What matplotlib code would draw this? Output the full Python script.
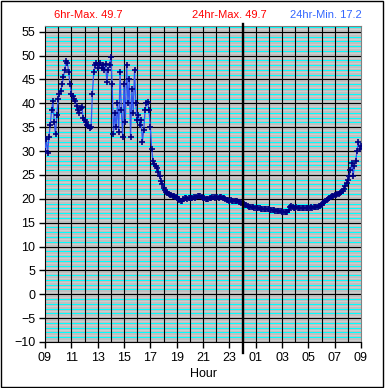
import numpy as np
import matplotlib
matplotlib.use('Agg')
import matplotlib.pyplot as plt
from matplotlib.patches import Rectangle
import matplotlib.transforms as mtransforms

plt.rcParams['font.family'] = ['Liberation Sans', 'DejaVu Sans']

# readings every 6 minutes starting 09:00, one row per hour
temps = [
    30.0, 32.5, 29.6, 33.0, 35.5, 38.5, 40.5, 36.0, 33.5, 37.5,   # 09
    41.0, 42.0, 42.5, 44.0, 45.5, 47.0, 48.8, 48.5, 46.5, 44.0,   # 10
    42.0, 41.5, 41.0, 40.5, 39.5, 38.5, 38.0, 39.0, 39.2, 37.0,   # 11
    36.5, 36.0, 35.5, 35.2, 34.8, 35.0, 42.0, 46.5, 48.0, 48.5,   # 12
    47.5, 48.0, 48.5, 47.5, 48.0, 47.0, 48.2, 44.5, 47.0, 48.0,   # 13
    49.7, 44.0, 33.5, 38.0, 35.0, 40.0, 34.0, 46.5, 38.5, 33.0,   # 14
    44.0, 36.0, 48.0, 40.0, 45.0, 33.0, 43.0, 38.0, 47.0, 40.0,   # 15
    36.5, 37.5, 35.5, 36.5, 32.0, 34.5, 38.5, 40.0, 40.2, 38.5,   # 16
    35.0, 30.5, 28.0, 27.2, 26.8, 26.5, 25.6, 24.8, 23.8, 23.2,   # 17
    22.3, 21.8, 21.5, 21.2, 21.0, 20.9, 20.7, 20.6, 20.5, 20.4,   # 18
    20.3, 20.0, 19.8, 19.6, 19.6, 19.9, 20.1, 20.2, 20.0, 20.1,   # 19
    20.2, 20.1, 20.2, 20.3, 20.2, 20.4, 20.5, 20.6, 20.5, 20.3,   # 20
    20.2, 20.1, 19.9, 19.9, 20.0, 20.2, 20.2, 20.3, 20.3, 20.2,   # 21
    20.3, 20.3, 20.2, 20.3, 20.3, 20.2, 20.1, 20.0, 19.8, 19.7,   # 22
    19.6, 19.7, 19.6, 19.6, 19.5, 19.6, 19.5, 19.4, 19.3, 19.2,   # 23
    19.0, 18.9, 18.7, 18.6, 18.4, 18.3, 18.3, 18.2, 18.2, 18.1,   # 00
    18.1, 18.0, 18.0, 18.0, 17.9, 17.9, 17.8, 17.9, 17.8, 17.8,   # 01
    17.8, 17.7, 17.7, 17.6, 17.6, 17.5, 17.5, 17.5, 17.4, 17.4,   # 02
    17.3, 17.3, 17.2, 17.2, 17.3, 17.6, 18.3, 18.5, 18.2, 18.1,   # 03
    18.1, 18.2, 18.1, 18.0, 18.1, 18.1, 18.0, 18.0, 18.1, 18.0,   # 04
    18.1, 18.1, 18.2, 18.1, 18.2, 18.2, 18.3, 18.3, 18.4, 18.5,   # 05
    18.8, 19.1, 19.4, 19.6, 19.8, 19.9, 20.1, 20.3, 20.5, 20.6,   # 06
    20.7, 20.8, 21.0, 21.1, 21.2, 21.4, 21.6, 22.0, 22.6, 23.3,   # 07
    24.0, 24.8, 26.0, 27.5, 24.8, 26.8, 28.0, 30.0, 32.0, 30.5,   # 08
    31.0,                                                         # 09
]
step_hours = 0.1
start_hour = 9
hours = np.arange(len(temps)) * step_hours

tick_hours = list(range(0, 25, 2))
tick_labels = ['%02d' % ((start_hour + h) % 24) for h in tick_hours]

fig = plt.figure(figsize=(3.85, 3.88), dpi=100)
ax = fig.add_axes([45/385, 46/388, 316/385, 316/388])
ax.set_facecolor('#C0C0C0')

ax.set_xlim(0, 24)
ax.set_ylim(-10, 56.2)

# minor horizontal stripes
for v in np.arange(-10, 56.5, 0.5):
    if v % 5 == 0:
        continue
    if v % 1 == 0:
        ax.axhline(v, color='#00FFFF', lw=0.72, zorder=1)
    else:
        ax.axhline(v, color='#D4D4D4', lw=0.5, zorder=1)
for v in range(-10, 56, 5):
    ax.axhline(v, color='black', lw=0.8, zorder=1.5)
for h in range(1, 24):
    ax.axvline(h, color='black', lw=0.8, zorder=1.5)

ax.plot(hours, temps, color='#3355EE', lw=0.9, zorder=3)
ax.plot(hours, temps, ls='none', marker='+', ms=4.5, mew=1.2, color='#000080', zorder=4)

# midnight marker
trans = mtransforms.blended_transform_factory(ax.transData, ax.transAxes)
ax.plot([24 - start_hour, 24 - start_hour], [-0.036, 1.006], transform=trans,
        color='black', lw=1.7, clip_on=False, zorder=5)

ax.set_yticks(range(-10, 56, 5))
ax.set_xticks(tick_hours)
ax.set_xticklabels(tick_labels)
ax.tick_params(axis='both', direction='out', length=4, width=1, labelsize=9, pad=3, colors='black')
ax.set_xlabel('Hour', fontsize=9, labelpad=3)

for s in ['left', 'bottom']:
    ax.spines[s].set_color('black')
for s in ['top', 'right']:
    ax.spines[s].set_color('#808080')

fig.text(54/385, 1 - 15/388, '6hr-Max. 49.7', color='#FF0000', fontsize=8, va='center', ha='left')
fig.text(192/385, 1 - 15/388, '24hr-Max. 49.7', color='#FF0000', fontsize=8, va='center', ha='left')
fig.text(290/385, 1 - 15/388, '24hr-Min. 17.2', color='#3366FF', fontsize=8, va='center', ha='left')

fig.patches.append(Rectangle((1/385, 1/388), 382/385, 386/388, transform=fig.transFigure,
                             fill=False, edgecolor='black', lw=1))

fig.savefig('out.png', dpi=100)
